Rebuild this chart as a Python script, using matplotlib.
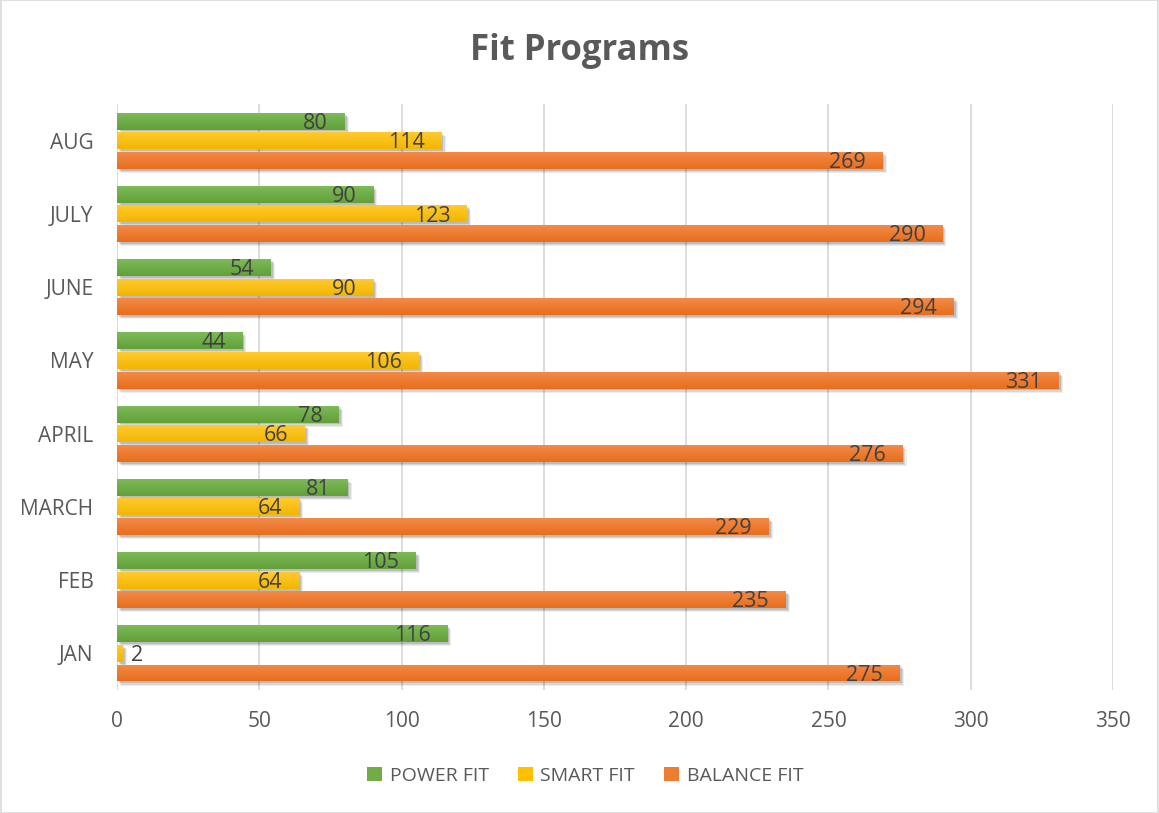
import matplotlib
matplotlib.use('Agg')
import matplotlib.pyplot as plt
import numpy as np
from matplotlib import patheffects as pe
from matplotlib.patches import Patch, Rectangle
from matplotlib.colors import to_rgb

months = ['JAN', 'FEB', 'MARCH', 'APRIL', 'MAY', 'JUNE', 'JULY', 'AUG']
power_fit = [116, 105, 81, 78, 44, 54, 90, 80]
smart_fit = [2, 64, 64, 66, 106, 90, 123, 114]
balance_fit = [275, 235, 229, 276, 331, 294, 290, 269]
series_names = ['POWER FIT', 'SMART FIT', 'BALANCE FIT']
x_ticks = [0, 50, 100, 150, 200, 250, 300, 350]

base_colors = ['#70AD47', '#FFC000', '#ED7D31']
top_colors = ['#7DBA58', '#FFCA30', '#F28A48']
bot_colors = ['#62A03A', '#F2B600', '#E86E1C']

plt.rcParams['font.family'] = ['Open Sans', 'DejaVu Sans']

fig = plt.figure(figsize=(11.59, 8.13), dpi=100)
ax = fig.add_axes([0.101, 0.1513, 0.8593, 0.7207])

y = np.arange(len(months))
bh = 0.232
step = 0.268
series = [power_fit, smart_fit, balance_fit]
offsets = [step, 0, -step]

shadow = [pe.SimplePatchShadow(offset=(3.0, -3.0), shadow_rgbFace='black', alpha=0.07),
          pe.SimplePatchShadow(offset=(2.2, -2.2), shadow_rgbFace='black', alpha=0.09),
          pe.SimplePatchShadow(offset=(1.4, -1.4), shadow_rgbFace='black', alpha=0.12),
          pe.Normal()]

for vals, off, base, tc, bc in zip(series, offsets, base_colors, top_colors, bot_colors):
    bars = ax.barh(y + off, vals, height=bh, color=base, zorder=3, linewidth=0)
    grad = np.linspace(0, 1, 32)[:, None, None]
    img = (1 - grad) * np.array(to_rgb(tc)) + grad * np.array(to_rgb(bc))
    for b, v in zip(bars, vals):
        b.set_path_effects(shadow)
        x0, y0 = b.get_x(), b.get_y()
        im = ax.imshow(img, extent=[x0, x0 + b.get_width(), y0, y0 + b.get_height()],
                       origin='upper', aspect='auto', zorder=3.5, interpolation='bilinear')
        im.set_clip_path(b)
        if v < 15:
            ax.annotate(str(v), (v, y0 + b.get_height() / 2), xytext=(6, -1.5),
                        textcoords='offset points', ha='left', va='center',
                        fontsize=15.5, color='#404040', zorder=5)
        else:
            ax.annotate(str(v), (v, y0 + b.get_height() / 2), xytext=(-12, -1.5),
                        textcoords='offset points', ha='right', va='center',
                        fontsize=15.5, color='#404040', zorder=5)

ax.set_xlim(0, 350)
ax.set_ylim(-0.5, len(months) - 0.5)
ax.set_xticks(x_ticks)
ax.set_xticklabels([str(t) for t in x_ticks])
ax.set_yticks(y)
ax.set_yticklabels(months)
ax.tick_params(axis='both', length=0, labelsize=15, labelcolor='#595959')
ax.tick_params(axis='y', pad=17)
ax.tick_params(axis='x', pad=15)
ax.grid(axis='x', color='#D9D9D9', linewidth=1.3, zorder=0)
ax.set_axisbelow(True)
for s in ax.spines.values():
    s.set_visible(False)

fig.text(0.5, 0.937, 'Fit Programs', ha='center', va='center', fontsize=25,
         fontweight='bold', color='#595959')

handles = [Patch(facecolor=c, edgecolor='none') for c in base_colors]
fig.legend(handles, series_names, loc='center', bbox_to_anchor=(0.505, 0.046), ncol=3,
           frameon=False, fontsize=14, labelcolor='#595959', handlelength=0.75,
           handleheight=0.75, handletextpad=0.4, columnspacing=1.5)

fig.patches.append(Rectangle((0.0005, 0.0005), 0.999, 0.999, transform=fig.transFigure,
                             fill=False, edgecolor='#D9D9D9', linewidth=1.2))

fig.savefig('out.png', dpi=100)
